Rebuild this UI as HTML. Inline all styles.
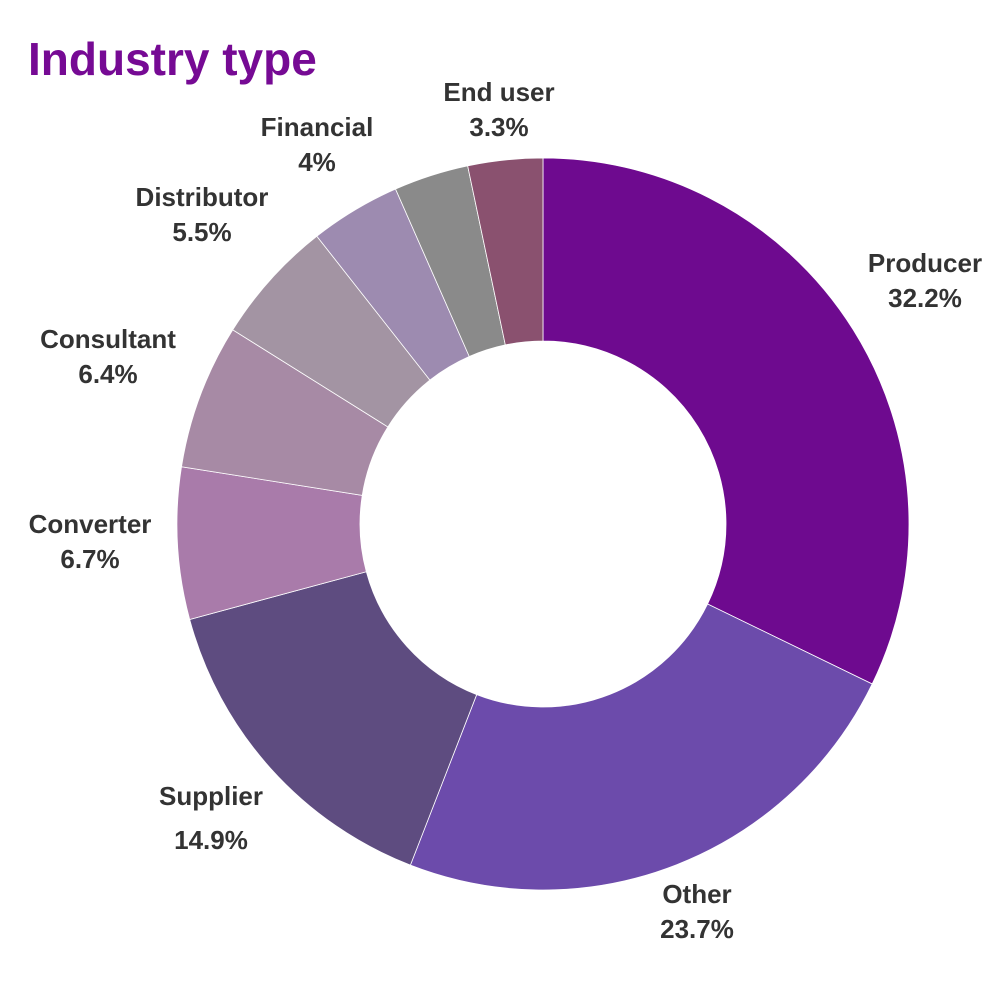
<!DOCTYPE html>
<html><head><meta charset="utf-8"><style>
body{margin:0;background:#fff;}
svg text{font-family:"Liberation Sans",sans-serif;font-weight:bold;}
</style></head><body>
<svg width="1000" height="1000" viewBox="0 0 1000 1000">
<text x="28" y="75" font-size="46" fill="#760a94">Industry type</text>
<g id="slices"></g>
<g id="labels"></g>
</svg>
<script>
const categories=["Producer","Other","Supplier","Converter","Consultant","Distributor","Financial","Unlabeled","End user"];
const values=[32.2,23.7,14.9,6.7,6.4,5.5,4,3.3,3.3];
const valueLabels=["32.2%","23.7%","14.9%","6.7%","6.4%","5.5%","4%","","3.3%"];
const colors=["#6e0a8f","#6c4bab","#5e4c80","#a97baa","#a78aa5","#a394a3","#9d8bb0","#8a8a8a","#8a516f"];
const labelPos=[[925,272],[697,903],[211,805],[90,533],[108,348],[202,206],[317,136],null,[499,101]];
const cx=543,cy=524,R=366,r=183;
const NS="http://www.w3.org/2000/svg";
const total=values.reduce((a,b)=>a+b,0);
function pt(a,rad){return [cx+rad*Math.sin(a),cy-rad*Math.cos(a)];}
let acc=0;
const g=document.getElementById('slices'),lg=document.getElementById('labels');
values.forEach((v,i)=>{
  const a0=acc/total*2*Math.PI;acc+=v;const a1=acc/total*2*Math.PI;
  const large=(a1-a0)>Math.PI?1:0;
  const [x0,y0]=pt(a0,R),[x1,y1]=pt(a1,R),[x2,y2]=pt(a1,r),[x3,y3]=pt(a0,r);
  const p=document.createElementNS(NS,'path');
  p.setAttribute('d',`M${x0},${y0}A${R},${R} 0 ${large} 1 ${x1},${y1}L${x2},${y2}A${r},${r} 0 ${large} 0 ${x3},${y3}Z`);
  p.setAttribute('fill',colors[i]);p.setAttribute('stroke','#fff');p.setAttribute('stroke-width','0.8');
  
  
  g.appendChild(p);
  if(labelPos[i]){
    const [lx,ly]=labelPos[i];
    const t=document.createElementNS(NS,'text');
    t.setAttribute('x',lx);t.setAttribute('y',ly);t.setAttribute('text-anchor','middle');
    t.setAttribute('font-size','26');t.setAttribute('fill','#333');
    
    
    const s1=document.createElementNS(NS,'tspan');s1.setAttribute('x',lx);s1.textContent=categories[i];
    const s2=document.createElementNS(NS,'tspan');s2.setAttribute('x',lx);s2.setAttribute('dy',i==2?'44':'35');s2.textContent=valueLabels[i];
    t.appendChild(s1);t.appendChild(s2);lg.appendChild(t);
  }
});
</script>
</body></html>
